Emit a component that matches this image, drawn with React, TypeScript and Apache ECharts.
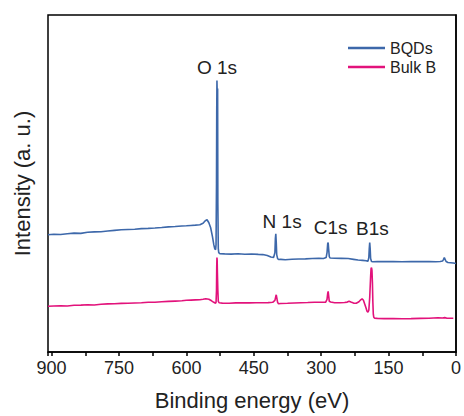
import React, { useEffect, useRef } from "react";
import * as echarts from "echarts";

// Binding energy (eV) / intensity (a.u., offset for stacking)
const bqdsEnergy = [
  908, 895, 880, 865, 850, 835, 820, 805, 790, 775, 760, 745, 730, 715, 700, 685, 670, 655, 640, 625, 610, 600, 590,
  580, 570, 563, 558, 554, 550, 546, 542, 539, 537, 535, 534, 533, 532.5, 532, 531.5, 531, 530.5, 530, 529, 528, 526,
  515, 500, 485, 470, 455, 440, 430, 420, 412, 406, 403, 402, 401, 400, 399, 397, 395, 390, 380, 365, 350, 335, 320,
  305, 295, 289, 287, 285.5, 284.5, 283.5, 282, 280, 270, 255, 240, 228, 218, 208, 200, 196, 194, 193, 192, 191,
  190, 188, 185, 175, 160, 140, 120, 100, 80, 60, 45, 35, 30, 28, 26, 24, 22, 18, 12, 6, 0,
];
const bqdsIntensity = [
  118, 118.5, 118.2, 119, 119.6, 119.3, 120.4, 120.8, 121, 121.7, 122.3, 122.9, 123.2, 123.5, 124.1, 124.4, 124.8,
  125.3, 125.9, 126.2, 126.8, 127, 127.3, 127.6, 128, 129.5, 132, 133, 130, 125, 116, 108, 104, 103, 108, 170, 240,
  273, 262, 200, 265, 150, 104, 100, 99, 98.7, 98.5, 98.9, 98.4, 98.6, 98.2, 98, 97, 95.5, 95, 100, 114, 119, 110, 98,
  94, 93, 93.2, 92.8, 93.3, 93.5, 93.7, 94, 94.2, 94, 95, 100, 109, 110, 104, 96, 94.5, 94.3, 94.2, 94, 93.2, 92.5,
  92.2, 91.8, 91.2, 95, 104, 110, 104, 94, 91, 90.8, 91.1, 90.9, 91, 90.8, 91, 90.9, 91, 90.8, 91, 91.5, 93, 95, 93,
  91, 90, 89.8, 89.5, 89,
];

const bulkEnergy = [
  908, 895, 880, 865, 850, 835, 820, 805, 790, 775, 760, 745, 730, 715, 700, 685, 670, 655, 640, 625, 610, 600, 590,
  580, 570, 563, 557, 550, 544, 539, 535, 534, 533, 532.5, 532, 531.5, 531, 530, 529, 527, 520, 505, 490, 475, 460,
  445, 430, 418, 408, 403, 401, 400, 399, 397, 395, 390, 375, 360, 345, 330, 315, 300, 290, 287, 285.5, 284.5, 283.5,
  282, 279, 270, 258, 248, 242, 238, 234, 228, 222, 216, 212, 209, 206, 203, 200, 198, 196, 194, 192, 190, 189, 188,
  187, 186, 185, 184, 183, 181, 175, 160, 140, 120, 100, 80, 60, 40, 30, 25, 20, 12, 6, 0,
];
const bulkIntensity = [
  46, 46.3, 46.5, 46.2, 47, 47.2, 47.5, 47.3, 48, 48.4, 48.5, 48.9, 49, 49.3, 49.5, 50, 50.1, 50.5, 50.9, 51.2, 51.5,
  52, 52.2, 52.4, 52.6, 53, 53.5, 53, 51.5, 50, 49, 50, 62, 85, 95, 92, 80, 62, 51, 49.5, 49.2, 49, 49.4, 49.6, 49.4,
  49.6, 49.5, 49.7, 50, 52, 56, 57.5, 55, 50, 48.5, 48.8, 49, 49.3, 49.6, 49.8, 50.1, 50, 50.2, 53, 59, 61, 57, 51,
  50.3, 49.6, 49.5, 49.8, 50.2, 51, 50.2, 49.2, 49, 50.5, 52.5, 53.5, 52, 48, 44, 41, 40, 42, 55, 76, 84, 85, 82, 70,
  50, 38, 35, 34, 33.8, 33.6, 33.7, 33.5, 33.6, 33.8, 34, 34.5, 34.2, 34.6, 34, 34, 34,
];

// Peak annotations
const peakLabels = ["O 1s", "N 1s", "C1s", "B1s"];
const peakEnergy = [532, 387, 279, 186];
const peakHeight = [286, 131, 125, 124];

const seriesNames = ["BQDs", "Bulk B"];
const seriesColors = ["#3d68aa", "#e2127b"];

const FONT = "'Liberation Sans', Arial, sans-serif";

export default function App() {
  const ref = useRef<HTMLDivElement>(null);
  useEffect(() => {
    if (!ref.current) return;
    const chart = echarts.init(ref.current, null, { renderer: "svg" });
    const zip = (xs: number[], ys: number[]) => xs.map((x, i) => [x, ys[i]]);
    chart.setOption({
      animation: false,
      backgroundColor: "#fff",
      textStyle: { fontFamily: FONT },
      grid: {
        left: 48,
        right: 7.5,
        top: 15,
        bottom: 62,
        show: true,
        borderColor: "#000",
        borderWidth: 1.5,
        containLabel: false,
      },
      legend: {
        orient: "vertical",
        left: 343,
        top: 35,
        itemWidth: 37,
        itemHeight: 2.5,
        itemGap: 3,
        icon: "rect",
        textStyle: { fontSize: 16, color: "#222", fontFamily: FONT },
        data: seriesNames,
      },
      xAxis: {
        type: "value",
        inverse: true,
        min: 0,
        max: 908,
        interval: 150,
        name: "Binding energy (eV)",
        nameLocation: "middle",
        nameGap: 37,
        nameTextStyle: { fontSize: 22, color: "#222", fontFamily: FONT },
        axisLine: { show: true, lineStyle: { color: "#000", width: 1.5 } },
        axisTick: { show: true, length: 4, lineStyle: { color: "#000", width: 1.5 } },
        minorTick: { show: true, splitNumber: 2, length: 4, lineStyle: { color: "#000", width: 1.5 } },
        axisLabel: { fontSize: 18, color: "#222", margin: 7, fontFamily: FONT },
        splitLine: { show: false },
      },
      yAxis: {
        type: "value",
        min: 0,
        max: 339,
        name: "Intensity (a. u.)",
        nameLocation: "middle",
        nameGap: 15,
        nameTextStyle: { fontSize: 22, color: "#222", fontFamily: FONT },
        axisLine: { show: true, lineStyle: { color: "#000", width: 1.5 } },
        axisTick: { show: false },
        axisLabel: { show: false },
        splitLine: { show: false },
      },
      series: [
        {
          name: seriesNames[0],
          type: "line",
          data: zip(bqdsEnergy, bqdsIntensity),
          showSymbol: false,
          symbol: "none",
          lineStyle: { color: seriesColors[0], width: 1.6 },
          itemStyle: { color: seriesColors[0] },
          markPoint: {
            symbol: "circle",
            symbolSize: 0,
            label: {
              show: true,
              position: "inside",
              formatter: (p: any) => p.name,
              fontSize: 19,
              color: "#222",
              fontFamily: FONT,
            },
            data: peakLabels.map((l, i) => ({ name: l, coord: [peakEnergy[i], peakHeight[i]] })),
          },
        },
        {
          name: seriesNames[1],
          type: "line",
          data: zip(bulkEnergy, bulkIntensity),
          showSymbol: false,
          symbol: "none",
          lineStyle: { color: seriesColors[1], width: 1.6 },
          itemStyle: { color: seriesColors[1] },
        },
      ],
    });
    return () => chart.dispose();
  }, []);
  return <div ref={ref} style={{ position: "fixed", top: 0, left: 0, width: 464, height: 416 }} />;
}
